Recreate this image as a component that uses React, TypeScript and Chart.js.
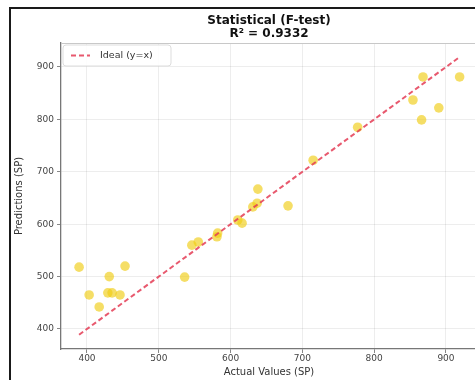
import React, { useEffect, useRef } from "react";
import { Chart, registerables } from "chart.js";

Chart.register(...registerables);

// ---- data ----
const titleLines = ["Statistical (F-test)", "R² = 0.9332"];
const xLabel = "Actual Values (SP)";
const yLabel = "Predictions (SP)";
const idealLabel = "Ideal (y=x)";
const actual = [389, 403, 417, 429, 431, 435, 446, 453, 536, 546, 555, 581, 582, 610, 616, 631, 637, 638, 680, 715, 777, 854, 866, 868, 890, 919];
const predicted = [518, 465, 442, 469, 500, 469, 465, 520, 499, 560, 566, 576, 583, 608, 602, 633, 640, 667, 635, 722, 785, 837, 799, 881, 822, 881];
const xTicks = [400, 500, 600, 700, 800, 900];
const yTicks = [400, 500, 600, 700, 800, 900];
const xRange = [363.8, 943.2];
const yRange = [361.8, 945.8];

// ---- layout / style ----
const W = 482;
const H = 380;
const AREA_LEFT = 61;
const AREA_RIGHT = 477;
const AREA_BOTTOM = 349;
const FONT = "'DejaVu Sans', sans-serif";
const POINT_COLOR = "rgba(240, 205, 20, 0.65)";
const LINE_COLOR = "rgba(228, 60, 85, 0.85)";

const framePlugin = {
  id: "frame",
  beforeDraw(chart: any) {
    const ctx = chart.ctx;
    ctx.save();
    ctx.fillStyle = "#ffffff";
    ctx.fillRect(0, 0, chart.width, chart.height);
    ctx.fillStyle = "#1a1a1a";
    ctx.fillRect(9, 7, 2, chart.height);
    ctx.fillRect(9, 7, chart.width, 2);
    ctx.restore();
  },
  afterDraw(chart: any) {
    const { ctx, chartArea } = chart;
    ctx.save();
    // top spine
    ctx.strokeStyle = "#c8c8c8";
    ctx.lineWidth = 1.2;
    ctx.beginPath();
    ctx.moveTo(chartArea.left, chartArea.top + 0.5);
    ctx.lineTo(chartArea.right, chartArea.top + 0.5);
    ctx.stroke();

    // legend box
    const bx = chartArea.left + 2;
    const by = chartArea.top + 2;
    const bw = 108;
    const bh = 21;
    const r = 3;
    ctx.beginPath();
    ctx.moveTo(bx + r, by);
    ctx.lineTo(bx + bw - r, by);
    ctx.quadraticCurveTo(bx + bw, by, bx + bw, by + r);
    ctx.lineTo(bx + bw, by + bh - r);
    ctx.quadraticCurveTo(bx + bw, by + bh, bx + bw - r, by + bh);
    ctx.lineTo(bx + r, by + bh);
    ctx.quadraticCurveTo(bx, by + bh, bx, by + bh - r);
    ctx.lineTo(bx, by + r);
    ctx.quadraticCurveTo(bx, by, bx + r, by);
    ctx.closePath();
    ctx.fillStyle = "rgba(255,255,255,0.85)";
    ctx.fill();
    ctx.strokeStyle = "#dddddd";
    ctx.lineWidth = 1;
    ctx.stroke();

    const cy = by + bh / 2;
    ctx.strokeStyle = LINE_COLOR;
    ctx.lineWidth = 2;
    ctx.setLineDash([5, 3]);
    ctx.beginPath();
    ctx.moveTo(bx + 8, cy);
    ctx.lineTo(bx + 27, cy);
    ctx.stroke();
    ctx.setLineDash([]);

    const ds = chart.data.datasets[0];
    ctx.fillStyle = "#333333";
    ctx.font = `9.5px ${FONT}`;
    ctx.textBaseline = "middle";
    ctx.textAlign = "left";
    ctx.fillText(ds.label, bx + 37, cy);
    ctx.restore();
  },
};

export default function App() {
  const ref = useRef<HTMLCanvasElement | null>(null);

  useEffect(() => {
    if (!ref.current) return;
    const points = actual.map((a, i) => ({ x: a, y: predicted[i] }));
    const lo = Math.min(...actual);
    const hi = Math.max(...actual);
    const chart = new Chart(ref.current, {
      type: "scatter",
      data: {
        datasets: [
          {
            type: "line",
            label: idealLabel,
            data: [
              { x: lo, y: lo },
              { x: hi, y: hi },
            ],
            borderColor: LINE_COLOR,
            borderWidth: 2,
            borderDash: [5, 3],
            pointRadius: 0,
            fill: false,
            order: 0,
          } as any,
          {
            label: "Predictions",
            data: points,
            backgroundColor: POINT_COLOR,
            borderColor: POINT_COLOR,
            borderWidth: 0,
            pointRadius: 4.8,
            order: 1,
          },
        ],
      },
      options: {
        responsive: false,
        animation: false,
        devicePixelRatio: 1,
        layout: { padding: { left: 0, right: W - AREA_RIGHT, top: 0, bottom: 0 } },
        plugins: {
          legend: { display: false },
          tooltip: { enabled: false },
          title: {
            display: true,
            text: titleLines,
            fullSize: false,
            color: "#111111",
            font: { family: FONT, size: 12, weight: "bold", lineHeight: 1.1 },
            padding: { top: 14.4, bottom: 2.2 },
          },
        },
        scales: {
          x: {
            type: "linear",
            min: xRange[0],
            max: xRange[1],
            afterBuildTicks: (s: any) => {
              s.ticks = xTicks.map((v) => ({ value: v }));
            },
            afterFit: (s: any) => {
              s.height = H - AREA_BOTTOM;
            },
            ticks: {
              color: "#444444",
              font: { family: FONT, size: 9 },
              padding: 0,
              maxRotation: 0,
              callback: (v: any) => String(v),
            },
            grid: {
              color: "rgba(0,0,0,0.07)",
              tickColor: "#888888",
              tickLength: 4,
              drawTicks: true,
            },
            border: { display: true, color: "#777777", width: 1.3 },
            title: {
              display: true,
              text: xLabel,
              color: "#333333",
              font: { family: FONT, size: 10 },
              padding: { top: 0, bottom: 2 },
            },
          },
          y: {
            type: "linear",
            min: yRange[0],
            max: yRange[1],
            afterBuildTicks: (s: any) => {
              s.ticks = yTicks.map((v) => ({ value: v }));
            },
            afterFit: (s: any) => {
              s.width = AREA_LEFT;
            },
            ticks: {
              color: "#444444",
              font: { family: FONT, size: 9 },
              padding: 3,
              callback: (v: any) => String(v),
            },
            grid: {
              color: "rgba(0,0,0,0.07)",
              tickColor: "#888888",
              tickLength: 4,
              drawTicks: true,
            },
            border: { display: true, color: "#777777", width: 1.3 },
            title: {
              display: true,
              text: yLabel,
              color: "#333333",
              font: { family: FONT, size: 10 },
              padding: { top: 13, bottom: 0 },
            },
          },
        },
      },
      plugins: [framePlugin],
    });
    return () => chart.destroy();
  }, []);

  return (
    <div style={{ position: "fixed", left: 0, top: 0, width: W, height: H, overflow: "hidden" }}>
      <canvas ref={ref} width={W} height={H} style={{ display: "block", width: W, height: H }} />
    </div>
  );
}
